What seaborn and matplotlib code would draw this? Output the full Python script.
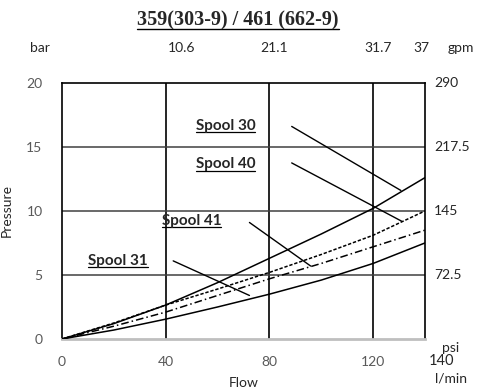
import pandas as pd
import seaborn as sns
import matplotlib.pyplot as plt

# flow in l/min, pressure in bar
flow = [0, 20, 40, 60, 80, 100, 120, 140]
spool_30 = [0, 1.2, 2.65, 4.4, 6.3, 8.2, 10.2, 12.6]
spool_40 = [0, 1.25, 2.65, 3.9, 5.2, 6.6, 8.1, 10.0]
spool_41 = [0, 1.0, 2.1, 3.4, 4.7, 5.9, 7.2, 8.5]
spool_31 = [0, 0.7, 1.55, 2.5, 3.5, 4.6, 5.9, 7.5]

x_ticks = [0, 40, 80, 120]
y_ticks = [0, 5, 10, 15, 20]
gpm_labels = ["10.6", "21.1", "31.7", "37"]
psi_labels = ["290", "217.5", "145", "72.5"]

df = pd.DataFrame({"Flow": flow, "Spool 30": spool_30, "Spool 40": spool_40,
                   "Spool 41": spool_41, "Spool 31": spool_31})

sns.set_style("white")
plt.rcParams["font.family"] = ["Lato", "DejaVu Sans"]

fig = plt.figure(figsize=(4.79, 3.91), dpi=100)
ax = fig.add_axes([0.1294, 0.133, 0.7578, 0.655])

# grid
for gx in [40, 80, 120]:
    ax.axvline(gx, color="black", lw=1.2, zorder=1)
for gy in [5, 10, 15]:
    ax.axhline(gy, color="#404040", lw=1.1, zorder=1)

styles = {"Spool 30": "-", "Spool 40": (0, (2.2, 1.2)), "Spool 41": (0, (5, 2, 1, 2)), "Spool 31": "-"}
for name, ls in styles.items():
    sns.lineplot(data=df, x="Flow", y=name, ax=ax, color="black", lw=1.1, linestyle=ls, zorder=3)

ax.set_xlim(0, 140)
ax.set_ylim(0, 20)
ax.set_xticks(x_ticks)
ax.set_yticks(y_ticks)
ax.tick_params(length=0, labelsize=10, labelcolor="#595959", pad=12)
ax.tick_params(axis="y", pad=14)
ax.set_xlabel("Flow", fontsize=10, labelpad=7)
ax.set_ylabel("Pressure", fontsize=10, labelpad=10)

for side in ["left", "top", "right"]:
    ax.spines[side].set_color("black")
    ax.spines[side].set_linewidth(1.2)
ax.spines["bottom"].set_color("#bfbfbf")
ax.spines["bottom"].set_linewidth(2)

# secondary scales as text
for xv, lab in zip([46, 82, 122, 138.5], gpm_labels):
    ax.text(xv, 22.7, lab, ha="center", va="center", fontsize=10, clip_on=False)
ax.text(154, 22.7, "gpm", ha="center", va="center", fontsize=10, clip_on=False)
ax.text(-8.5, 22.7, "bar", ha="center", va="center", fontsize=10, clip_on=False)
for yv, lab in zip([20, 15, 10, 5], psi_labels):
    ax.text(143.5, yv, lab, ha="left", va="center", fontsize=10, clip_on=False)
ax.text(150, -0.7, "psi", ha="center", va="center", fontsize=10, clip_on=False)
ax.text(146.5, -1.7, "140", ha="center", va="center", fontsize=10.5, clip_on=False)
ax.text(150, -3.1, "l/min", ha="center", va="center", fontsize=10, clip_on=False)

# spool labels with leader lines
labels = [("Spool 30", 51.5, 16.1, [88.6, 130.7], [16.6, 11.6]),
          ("Spool 40", 51.5, 13.1, [88.6, 131], [13.75, 9.2]),
          ("Spool 41", 38.5, 8.7, [72.3, 95.9], [9.1, 5.7]),
          ("Spool 31", 10, 5.55, [42.9, 72.3], [6.1, 3.4])]
spool_texts = []
for text, tx, ty, lx, ly in labels:
    spool_texts.append(ax.text(tx, ty, text, fontsize=11, fontweight="bold", va="bottom", ha="left"))
    ax.plot(lx, ly, color="black", lw=1.0, zorder=3)

title = fig.text(0.497, 0.948, "359(303-9) / 461 (662-9)", ha="center", va="center",
                 fontsize=14.5, fontweight="bold", family="Liberation Serif")

# underlines
fig.canvas.draw()
renderer = fig.canvas.get_renderer()
inv = ax.transData.inverted()
for t in spool_texts:
    bb = t.get_window_extent(renderer)
    (x0, y0), (x1, y1) = inv.transform([[bb.x0, bb.y0], [bb.x1, bb.y0]])
    ax.plot([x0, x1], [y0 + 0.05, y0 + 0.05], color="black", lw=0.9, clip_on=False)

bb = title.get_window_extent(renderer)
fig.add_artist(plt.Line2D([bb.x0 / fig.bbox.width, bb.x1 / fig.bbox.width],
                          [(bb.y0 + 1) / fig.bbox.height] * 2, color="black", lw=1.0))

fig.savefig("out.png", dpi=100)
